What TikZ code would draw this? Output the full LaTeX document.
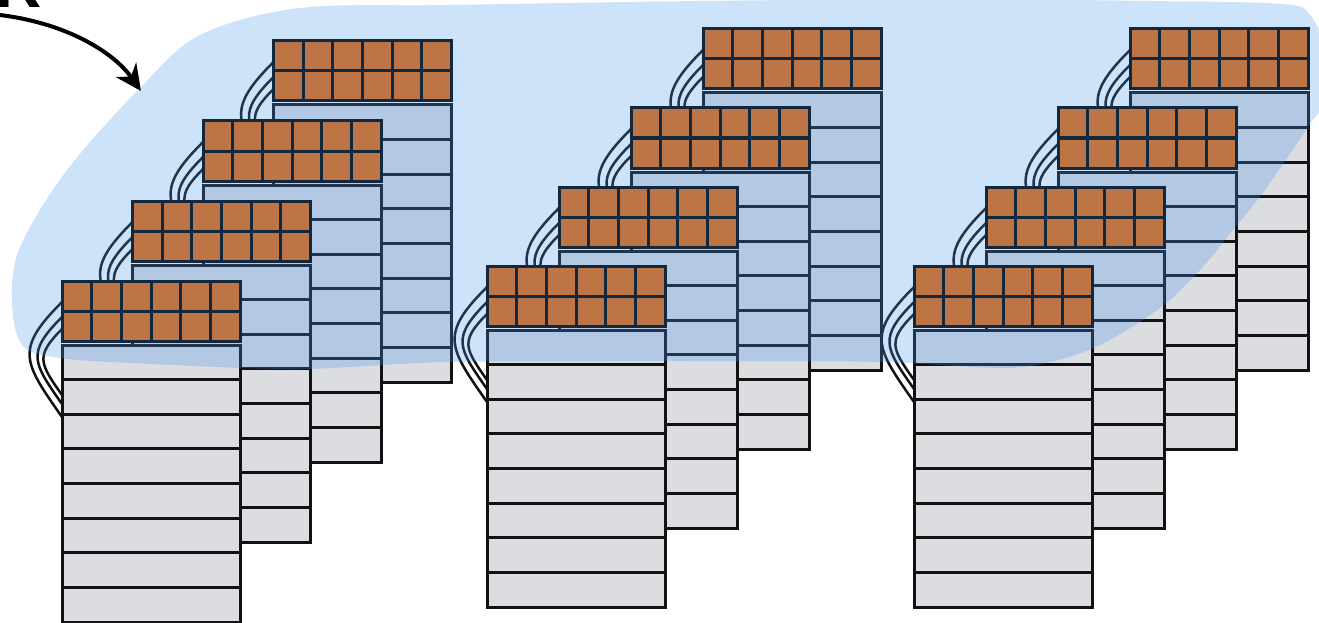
\documentclass[tikz,border=0pt]{standalone}
\usepackage{fontspec}
\setsansfont{Liberation Sans}
\usetikzlibrary{arrows.meta}

\definecolor{cellorange}{RGB}{190,117,69}
\definecolor{cellnavy}{RGB}{19,40,63}
\definecolor{rackgray}{RGB}{220,221,224}
\definecolor{blobblue}{RGB}{70,150,237}

\pgfdeclarelayer{tint}
\pgfdeclarelayer{front}
\pgfsetlayers{main,tint,front}

\tikzset{
  rack/.style={draw=black!93, line width=3pt, fill=rackgray, inner sep=0pt, outer sep=0pt,
    minimum width=178pt, minimum height=277pt, anchor=north west},
  tile/.style={draw=cellnavy, line width=3pt, fill=cellorange, inner sep=0pt, outer sep=0pt,
    minimum width=178pt, minimum height=60pt, anchor=north west},
  wire/.style={black!93, line width=2.5pt, looseness=1.5},
}

\begin{document}
\begin{tikzpicture}[x=1pt,y=1pt]
 \useasboundingbox (0,0) rectangle (1319,-623);
 % label and arrow
 \node[anchor=base west, inner sep=0pt, font=\fontsize{64}{64}\selectfont\sffamily\bfseries] (lbl) at (-5,-8) {R};
 \coordinate (tail) at (-10,-14);
 \coordinate (tip) at (141,-91);
 \draw[line width=4pt, -{Stealth[length=26pt,width=25pt]}] (tail) .. controls (60,-20) and (112,-50) .. (tip);
 % three groups of stacked units, back to front
 \foreach \g/\gx/\gy/\dx/\dy in {1/62/281/70.5/80, 2/487/266/72/79, 3/914/266/72/79} {
  \foreach \k in {3,2,1,0} {
   \pgfmathsetmacro\ux{\gx+\dx*\k}
   \pgfmathsetmacro\uy{-\gy+\dy*\k}
   \node[rack] (rack-\g-\k) at (\ux,\uy-64) {};
   \foreach \r in {1,...,7}
    \draw[black!93, line width=3pt] ([yshift=-\r*34.6pt]rack-\g-\k.north west) -- ([yshift=-\r*34.6pt]rack-\g-\k.north east);
   \begin{pgfonlayer}{front}
    \node[tile] (tile-\g-\k) at (\ux,\uy) {};
    \foreach \c in {1,...,5}
     \draw[cellnavy, line width=3pt] ([xshift=\c*29.67pt]tile-\g-\k.north west) -- ([xshift=\c*29.67pt]tile-\g-\k.south west);
    \draw[cellnavy, line width=3pt] (tile-\g-\k.west) -- (tile-\g-\k.east);
   \end{pgfonlayer}
   % cables from tile to rack
   \draw[wire] ([yshift=-21pt]tile-\g-\k.north west) to[out=225,in=125] ([yshift=-72pt]rack-\g-\k.north west);
   \draw[wire] ([yshift=-36pt]tile-\g-\k.north west) to[out=225,in=125] ([yshift=-59pt]rack-\g-\k.north west);
   \draw[wire] ([yshift=-48pt]tile-\g-\k.north west) to[out=225,in=125] ([yshift=-50pt]rack-\g-\k.north west);
  }
 }
 % highlighted region
 \begin{pgfonlayer}{tint}
  \fill[blobblue, fill opacity=0.27] plot[smooth cycle, tension=0.55] coordinates {
   (12,-300) (20,-247) (67,-170) (140,-88) (200,-35) (300,-8) (450,-5) (700,-1)
   (950,1) (1150,-1) (1283,-4) (1310,-15) (1325,-50) (1325,-100) (1310,-124)
   (1267,-187) (1233,-230) (1200,-270) (1160,-308) (1100,-345) (1050,-362)
   (1000,-368) (880,-362) (700,-361) (450,-362) (300,-369) (150,-364) (60,-358) (22,-345)};
 \end{pgfonlayer}
\end{tikzpicture}
\end{document}
